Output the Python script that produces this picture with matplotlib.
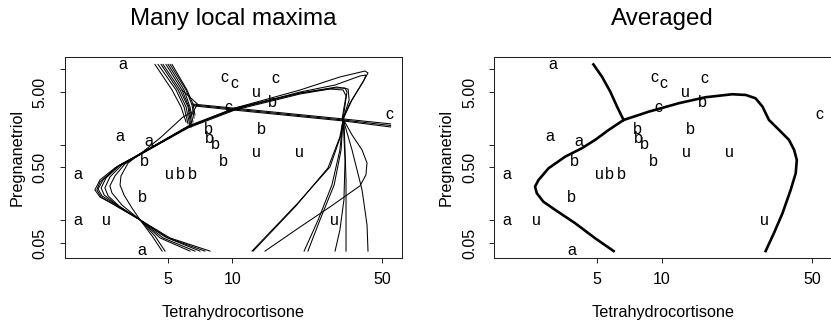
import matplotlib
matplotlib.use("Agg")
import matplotlib.pyplot as plt

plt.rcParams["font.family"] = ["Liberation Sans", "DejaVu Sans"]

# Cushings data: Tetrahydrocortisone, Pregnanetriol, type
thc = [3.1, 3.0, 1.9, 3.8, 4.1, 1.9,
       8.3, 3.8, 3.9, 7.8, 9.1, 15.4, 7.7, 6.5, 5.7, 13.6,
       10.2, 9.2, 9.6, 53.8, 15.8,
       5.1, 12.9, 13.0, 2.6, 30.0, 20.5]
preg = [11.70, 1.30, 0.10, 0.04, 1.10, 0.40,
        1.00, 0.20, 0.60, 1.20, 0.60, 3.60, 1.60, 0.40, 0.40, 1.60,
        6.40, 7.90, 3.10, 2.50, 7.60,
        0.40, 5.00, 0.80, 0.10, 0.10, 0.80]
kind = list("aaaaaabbbbbbbbbbcccccuuuuuu")

# boundaries of the single fits (left panel)
top_x = [[4.36, 5.24, 5.77, 6.09], [4.51, 5.47, 5.96, 6.22],
         [4.66, 5.59, 6.09, 6.35], [4.76, 5.71, 6.22, 6.42],
         [4.91, 5.83, 6.28, 6.49], [5.02, 5.96, 6.35, 6.56],
         [5.13, 6.09, 6.49, 6.63], [5.24, 6.15, 6.56, 6.70]]
top_y = [[11.6, 5.32, 3.17, 2.00], [11.6, 5.32, 3.17, 1.89],
         [11.6, 5.32, 3.17, 1.77], [11.6, 5.32, 3.17, 1.72],
         [11.6, 5.32, 3.17, 1.83], [11.6, 5.32, 3.17, 2.00],
         [11.6, 5.32, 3.37, 2.26], [11.6, 5.32, 3.47, 2.48]]

mid_x = [[6.49, 10.07, 32.8, 54.6], [6.56, 10.07, 32.8, 54.6],
         [6.63, 10.07, 32.8, 54.6]]
mid_y = [[3.47, 3.07, 2.20, 1.89], [3.37, 2.98, 2.13, 1.80],
         [3.27, 2.89, 2.07, 1.72]]

upper_x = [[3.60, 6.22, 10.29, 20.7, 31.7, 41.5, 42.85, 40.6, 35.3, 32.8],
           [3.60, 6.22, 10.29, 20.7, 30.1, 39.3, 41.9, 41.05, 36.1, 32.8],
           [3.56, 6.22, 10.29, 20.7, 30.1, 33.5, 34.2, 33.5, 32.8],
           [3.56, 6.22, 10.29, 20.7, 28.5, 32.8, 33.85, 33.1, 32.4],
           [3.64, 6.22, 10.29, 20.7, 30.7, 34.6, 35.0, 32.8],
           [3.72, 4.61, 5.89, 6.49],
           [5.83, 6.88, 6.35]]
upper_y = [[0.710, 1.72, 3.07, 5.32, 7.91, 9.49, 8.93, 6.79, 3.58, 2.20],
           [0.710, 1.72, 2.98, 5.00, 6.19, 8.15, 8.40, 7.21, 3.92, 2.20],
           [0.689, 1.72, 2.98, 4.85, 5.65, 5.65, 5.00, 3.37, 2.20],
           [0.689, 1.67, 2.89, 4.71, 5.48, 5.32, 4.43, 3.07, 2.13],
           [0.733, 1.77, 3.07, 4.85, 5.83, 5.48, 3.92, 2.20],
           [0.755, 1.23, 2.33, 2.72],
           [5.32, 3.47, 2.26]]

left_x = [[6.22, 3.72, 2.84, 2.42, 2.29, 2.42, 2.84, 3.72, 5.13, 7.87],
          [6.22, 3.72, 2.90, 2.50, 2.37, 2.47, 2.90, 3.72, 5.02, 7.46],
          [6.22, 3.72, 3.00, 2.58, 2.45, 2.53, 2.94, 3.72, 4.86, 7.07],
          [6.22, 3.72, 3.06, 2.69, 2.55, 2.64, 3.00, 3.72, 4.76, 6.70],
          [6.22, 3.72, 3.16, 2.84, 2.69, 2.75, 3.06, 3.72, 4.36, 4.86],
          [6.22, 3.72, 3.27, 3.03, 3.00, 3.13, 3.41, 3.72, 4.23, 4.71],
          [6.22, 3.72, 2.94, 2.42, 2.34, 2.45, 2.87, 3.72, 4.61, 6.35]]
left_y = [[1.72, 0.755, 0.493, 0.342, 0.252, 0.203, 0.159, 0.101, 0.0582, 0.039],
          [1.72, 0.755, 0.508, 0.342, 0.260, 0.210, 0.159, 0.101, 0.0582, 0.039],
          [1.72, 0.755, 0.540, 0.363, 0.268, 0.216, 0.155, 0.101, 0.0601, 0.039],
          [1.72, 0.755, 0.540, 0.374, 0.268, 0.210, 0.150, 0.101, 0.0582, 0.039],
          [1.72, 0.755, 0.557, 0.386, 0.285, 0.230, 0.159, 0.101, 0.0619, 0.039],
          [1.72, 0.755, 0.574, 0.386, 0.293, 0.216, 0.145, 0.101, 0.0619, 0.039],
          [1.72, 0.755, 0.524, 0.321, 0.252, 0.203, 0.155, 0.101, 0.0582, 0.039]]

down_x = [[32.8, 32.1, 28.5, 20.0, 12.35],
          [32.8, 31.7, 27.9, 19.8, 12.5],
          [32.8, 36.1, 40.2, 42.4, 41.9, 39.3, 28.5, 20.7, 14.2],
          [32.8, 31.7, 29.1, 25.1, 21.6],
          [32.8, 32.1, 29.8, 25.6, 22.5],
          [32.8, 33.5, 33.1, 31.7, 30.1],
          [33.1, 33.85, 33.85],
          [32.8, 36.1, 40.2, 42.4, 42.85]]
down_y = [[2.20, 1.35, 0.508, 0.164, 0.039],
          [2.13, 1.27, 0.493, 0.155, 0.039],
          [2.20, 1.35, 0.853, 0.574, 0.398, 0.285, 0.150, 0.0815, 0.039],
          [2.20, 0.853, 0.293, 0.101, 0.039],
          [2.20, 0.853, 0.293, 0.101, 0.039],
          [2.20, 0.629, 0.186, 0.0744, 0.039],
          [2.20, 0.342, 0.039],
          [2.20, 0.853, 0.252, 0.0866, 0.039]]

# averaged boundary (right panel)
avg_x = [[4.80, 5.26, 5.75, 6.18, 6.63],
         [6.63, 8.67, 11.96, 15.9, 21.2, 24.5, 27.2, 29.3, 31.4, 35.0, 38.9,
          41.1, 42.3, 41.8, 39.6, 36.3, 33.1, 30.3],
         [6.63, 5.65, 4.89, 4.24, 3.55, 2.97, 2.67, 2.57, 2.62, 2.81, 3.19,
          3.95, 4.89, 5.96]]
avg_y = [[11.6, 7.98, 5.05, 3.20, 2.13],
         [2.13, 2.74, 3.55, 4.26, 4.67, 4.57, 4.13, 3.20, 2.13, 1.57, 1.16,
          0.853, 0.629, 0.419, 0.252, 0.124, 0.0673, 0.039],
         [2.13, 1.57, 1.16, 0.899, 0.696, 0.488, 0.342, 0.279, 0.228, 0.176,
          0.137, 0.0912, 0.0577, 0.039]]

W, H = 831, 325
fig = plt.figure(figsize=(W / 100, H / 100), dpi=100)

def setup(ax):
    ax.set_xscale("log")
    ax.set_yscale("log")
    ax.set_xlim(1.6624, 61.50)
    ax.set_ylim(0.031873, 14.686)
    ax.set_xticks([5, 10, 50])
    ax.set_xticklabels(["5", "10", "50"])
    ax.set_yticks([0.05, 0.1, 0.5, 1, 5, 10])
    ax.set_yticklabels(["0.05", "", "0.50", "", "5.00", ""],
                       rotation=90, va="center")
    ax.minorticks_off()
    ax.tick_params(length=3.4, width=0.7, labelsize=11.5, color="#222222")
    ax.tick_params(axis="x", pad=7)
    ax.tick_params(axis="y", pad=9)
    for s in ax.spines.values():
        s.set_linewidth(0.75)
        s.set_color("#222222")
    for x, y, t in zip(thc, preg, kind):
        ax.text(x, y, t, ha="center", va="center", fontsize=11.5)

ax1 = fig.add_axes([65 / W, 67.3 / H, 336.7 / W, 201 / H])
ax2 = fig.add_axes([494.3 / W, 67.3 / H, 337.5 / W, 201 / H])
setup(ax1)
setup(ax2)

for xs, ys in zip(top_x + mid_x + upper_x + left_x + down_x,
                  top_y + mid_y + upper_y + left_y + down_y):
    ax1.plot(xs, ys, color="black", lw=0.75)

for xs, ys in zip(avg_x, avg_y):
    ax2.plot(xs, ys, color="black", lw=1.9, solid_joinstyle="round")

fig.text(233.4 / W, 1 - 25 / H, "Many local maxima", ha="center",
         va="baseline", fontsize=17.4)
fig.text(662.7 / W, 1 - 25 / H, "Averaged", ha="center",
         va="baseline", fontsize=17.4)
for cx in (233.4, 662.7):
    fig.text(cx / W, 1 - 317 / H, "Tetrahydrocortisone", ha="center",
             va="baseline", fontsize=11.7)
for cx in (17, 446.3):
    fig.text(cx / W, 1 - 157.2 / H, "Pregnanetriol", ha="center",
             va="center", rotation=90, fontsize=11.7)

fig.savefig("out.png", dpi=100)
